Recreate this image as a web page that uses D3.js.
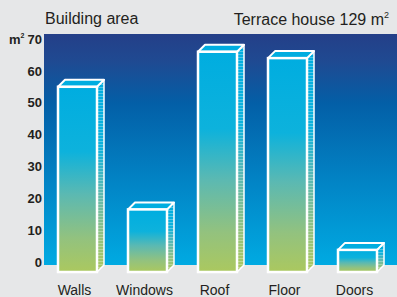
<!DOCTYPE html>
<html lang="en">
  <head>
    <meta charset="utf-8" />
    <title>Building area</title>
    <script src="https://d3js.org/d3.v7.min.js"></script>
    <style>
      body { margin: 0; background: #e6e7e8; }
      svg { display: block; font-family: "Liberation Sans", Arial, sans-serif; }
    </style>
  </head>
  <body>
    <div id="chart"></div>
    <script>
      // data
      const categories = ["Walls", "Windows", "Roof", "Floor", "Doors"];
      const areas = [55, 16.5, 66, 64, 3.8];
      const tickValues = [0, 10, 20, 30, 40, 50, 60, 70];

      const width = 397, height = 297;
      const plot = { left: 44, right: 397, top: 34, bottom: 265 };
      const depth = 7; // 3d offset of the boxes

      const svg = d3.select("#chart").append("svg")
        .attr("width", width).attr("height", height);

      const defs = svg.append("defs");

      // plot background gradient
      const bg = defs.append("linearGradient").attr("id", "bg")
        .attr("x1", 0).attr("y1", 0).attr("x2", 0).attr("y2", 1);
      bg.append("stop").attr("offset", "0%").attr("stop-color", "#243f88");
      bg.append("stop").attr("offset", "12%").attr("stop-color", "#1f4a92");
      bg.append("stop").attr("offset", "30%").attr("stop-color", "#035fa7");
      bg.append("stop").attr("offset", "65%").attr("stop-color", "#0285c6");
      bg.append("stop").attr("offset", "100%").attr("stop-color", "#00aae2");

      // bar gradient, relative to each bar
      const bar = defs.append("linearGradient").attr("id", "bar")
        .attr("x1", 0).attr("y1", 0).attr("x2", 0).attr("y2", 1);
      bar.append("stop").attr("offset", "0%").attr("stop-color", "#00ade0");
      bar.append("stop").attr("offset", "35%").attr("stop-color", "#0db2dc");
      bar.append("stop").attr("offset", "58%").attr("stop-color", "#5bb9b2");
      bar.append("stop").attr("offset", "82%").attr("stop-color", "#93c27e");
      bar.append("stop").attr("offset", "100%").attr("stop-color", "#abc85f");

      // striped side face
      const stripes = defs.append("pattern").attr("id", "stripes")
        .attr("patternUnits", "userSpaceOnUse").attr("width", 8).attr("height", 3);
      stripes.append("rect").attr("width", 8).attr("height", 1)
        .attr("fill", "#ffffff").attr("opacity", 0.3);

      svg.append("rect")
        .attr("x", plot.left).attr("y", plot.top)
        .attr("width", plot.right - plot.left).attr("height", plot.bottom - plot.top)
        .attr("fill", "url(#bg)");

      // scales
      const x = d3.scaleBand().domain(categories).range([58, 377]).paddingInner(0.443).paddingOuter(0);
      const y = d3.scaleLinear().domain([0, 70]).range([262, 39]);
      const base = y(0) + 10;

      // y axis labels
      svg.append("g").selectAll("text").data(tickValues).join("text")
        .attr("x", 42).attr("y", d => y(d))
        .attr("dy", "0.36em")
        .attr("text-anchor", "end")
        .attr("font-size", 13).attr("font-weight", "bold")
        .attr("fill", "#231f20")
        .text(d => d);

      const unit = svg.append("text").attr("x", 9).attr("y", 44)
        .attr("font-size", 13).attr("font-weight", "bold").attr("fill", "#231f20");
      unit.append("tspan").text("m");
      unit.append("tspan").attr("font-size", 7).attr("dy", -6).text("2");

      // bars
      const boxes = svg.append("g").selectAll("g").data(categories).join("g");
      const bw = x.bandwidth();

      const sidePath = (d, i) => {
        const x1 = x(d) + bw, t = y(areas[i]);
        return `M${x1},${t}L${x1 + depth},${t - depth}L${x1 + depth},${base - depth}L${x1},${base}Z`;
      };

      boxes.append("path") // side
        .attr("d", sidePath)
        .attr("fill", "url(#bar)");
      boxes.append("path")
        .attr("d", sidePath)
        .attr("fill", "url(#stripes)")
        .attr("stroke", "#fff").attr("stroke-width", 1.5).attr("stroke-linejoin", "round");

      boxes.append("path") // top
        .attr("d", (d, i) => {
          const x0 = x(d), t = y(areas[i]);
          return `M${x0},${t}L${x0 + depth},${t - depth}L${x0 + bw + depth},${t - depth}L${x0 + bw},${t}Z`;
        })
        .attr("fill", "#00ade0")
        .attr("stroke", "#fff").attr("stroke-width", 2).attr("stroke-linejoin", "round");

      boxes.append("rect") // front
        .attr("x", d => x(d))
        .attr("y", (d, i) => y(areas[i]))
        .attr("width", bw)
        .attr("height", (d, i) => base - y(areas[i]))
        .attr("fill", "url(#bar)")
        .attr("stroke", "#fff").attr("stroke-width", 2.5);

      // category labels
      svg.append("g").selectAll("text").data(categories).join("text")
        .attr("x", d => x(d) + bw / 2 - 3)
        .attr("y", 295)
        .attr("text-anchor", "middle")
        .attr("font-size", 14)
        .attr("fill", "#231f20")
        .text(d => d);

      // titles
      svg.append("text").attr("x", 45).attr("y", 24)
        .attr("font-size", 16).attr("fill", "#231f20")
        .text("Building area");

      const sub = svg.append("text").attr("x", 389).attr("y", 25)
        .attr("text-anchor", "end")
        .attr("font-size", 16).attr("fill", "#231f20");
      sub.append("tspan").text("Terrace house 129 m");
      sub.append("tspan").attr("font-size", 9).attr("dy", -7).text("2");
    </script>
  </body>
</html>
